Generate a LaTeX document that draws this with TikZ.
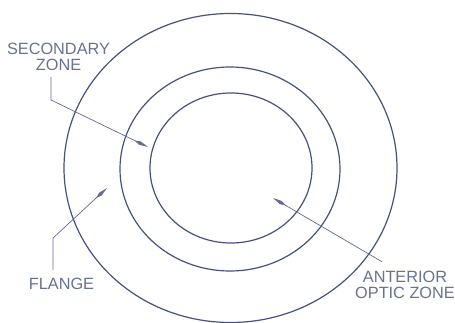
\documentclass[tikz,border=0pt]{standalone}
\usepackage{fontspec}
\setmainfont{Liberation Sans}
\usetikzlibrary{arrows.meta,positioning,calc}
\definecolor{ringblue}{RGB}{72,80,128}
\definecolor{labelgray}{RGB}{104,114,146}
\tikzset{
  ring/.style={draw=ringblue, line width=1.2pt},
  leader/.style={-{Kite[length=15pt, width=3.6pt, inset=6pt]}, draw=ringblue!85, line width=0.7pt},
  zonelabel/.style={text=labelgray, align=center, inner xsep=0pt, inner ysep=6pt, font=\fontsize{16.3}{16}\selectfont}
}
\begin{document}
\begin{tikzpicture}[x=1pt, y=-1pt]
  \useasboundingbox[fill=white] (0,0) rectangle (455,323);
  \coordinate (ctr) at (230.5,168);
  \draw[ring] (ctr) ellipse [x radius=166.5pt, y radius=154.5pt];
  \draw[ring] (230,169) ellipse [x radius=110pt, y radius=102pt];
  \draw[ring] (231,168) ellipse [x radius=81pt, y radius=75pt];
  % labels
  \node[zonelabel] (secz) at (58.5,57.2) {SECONDARY\\ZONE};
  \node[zonelabel, inner ysep=8pt] (flange) at (61.5,284.2) {FLANGE};
  \node[zonelabel, inner ysep=9pt] (aoz) at (405,284.7) {ANTERIOR\\OPTIC ZONE};
  % leaders
  \coordinate (secbend) at (51,100);
  \coordinate (sectip) at (148,147);
  \coordinate (flbend) at (53,238);
  \coordinate (fltip) at (107,188);
  \coordinate (aoztip) at (273,198);
  \draw[leader] (secz.south -| secbend) -- (secbend) -- (sectip);
  \draw[leader] (flange.north -| flbend) -- (flbend) -- (fltip);
  \draw[leader] ([xshift=-23pt]aoz.north) -- (aoztip);
\end{tikzpicture}
\end{document}
